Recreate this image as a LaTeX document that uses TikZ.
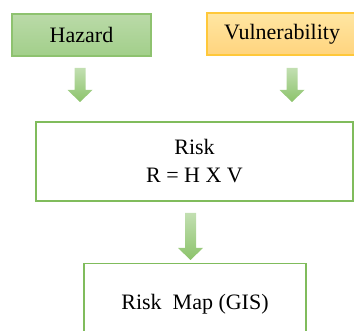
\documentclass[tikz,border=0pt]{standalone}
\usepackage{fontspec}
\setmainfont{Liberation Serif}
\usetikzlibrary{calc}
\definecolor{haztop}{HTML}{BADAA8}
\definecolor{hazbot}{HTML}{A2CF8A}
\definecolor{hazline}{HTML}{8EC26F}
\definecolor{vultop}{HTML}{FFE6A2}
\definecolor{vulbot}{HTML}{FFD47E}
\definecolor{vulline}{HTML}{FFC83A}
\definecolor{riskline}{HTML}{80BC5C}
\definecolor{arrtop}{HTML}{C2DFB1}
\definecolor{arrbot}{HTML}{8CC36B}

\tikzset{
  box/.style={draw=riskline, line width=1.5pt, fill=white, inner sep=0pt,
    font=\fontsize{22}{28}\selectfont, align=center},
  hazbox/.style={box, draw=hazline, top color=haztop, bottom color=hazbot},
  vulbox/.style={box, draw=vulline, top color=vultop, bottom color=vulbot},
  blockarrow/.style={top color=arrtop, bottom color=arrbot},
}

% fat down arrow from #1 (top of shaft) to #2 (tip)
\newcommand{\fatarrow}[2]{%
  \path[blockarrow] let \p1=(#1), \p2=(#2) in
    (\x1-5.5pt,\y1) -- (\x1+5.5pt,\y1) -- (\x1+5.5pt,\y2+12pt)
    -- (\x1+12.5pt,\y2+12pt) -- (\x1,\y2) -- (\x1-12.5pt,\y2+12pt)
    -- (\x1-5.5pt,\y2+12pt) -- cycle;}

\begin{document}
\begin{tikzpicture}[x=1pt, y=-1pt]
    \useasboundingbox (0,0) rectangle (354,331);

    % inputs
    \node[hazbox, minimum width=139pt, minimum height=42pt] (haz) at (81.5,35) {Hazard};
    \node[vulbox, minimum width=150pt, minimum height=42pt] (vul) at (282,34) {Vulnerability};

    % risk
    \node[box, minimum width=317pt, minimum height=79pt] (risk) at (194.5,161.5)
        {Risk\\R = H X V};

    % output
    \node[box, minimum width=222pt, minimum height=80pt, anchor=north] (map) at (195,263)
        {Risk\ \ Map (GIS)};

    % arrows
    \coordinate (haz out) at (80,68);
    \coordinate (haz in) at (80,102);
    \coordinate (vul out) at (292,68);
    \coordinate (vul in) at (292,102);
    \coordinate (risk out) at (190.5,213);
    \coordinate (map in) at (190.5,260);
    \fatarrow{haz out}{haz in}
    \fatarrow{vul out}{vul in}
    \fatarrow{risk out}{map in}
\end{tikzpicture}
\end{document}
